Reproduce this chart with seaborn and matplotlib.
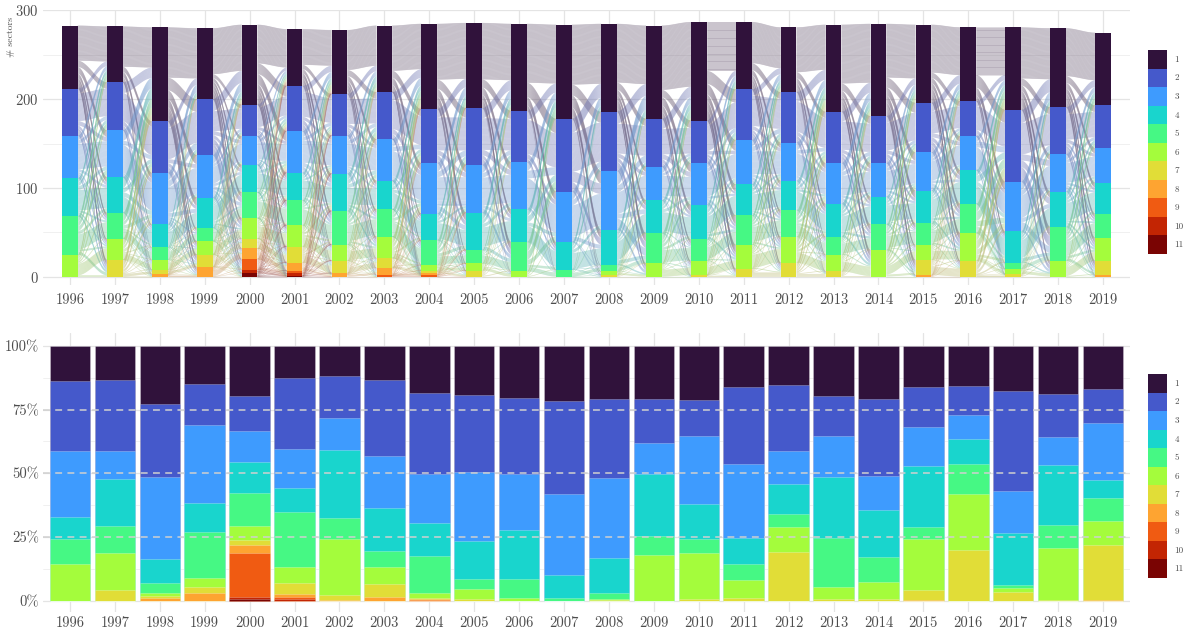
import numpy as np
import pandas as pd
import matplotlib
matplotlib.use("Agg")
import matplotlib as mpl
import matplotlib.pyplot as plt
from matplotlib.collections import PolyCollection, LineCollection
from matplotlib.patches import Patch
import seaborn as sns

# ---------------- data ----------------
years = list(range(1996, 2020))
classes = [str(i) for i in range(1, 12)]

# number of sectors per class (top panel)
count_1 = [71, 63, 106, 80, 90, 64, 72, 75, 96, 96, 98, 106, 99, 105, 111, 76, 73, 98, 104, 88, 83, 93, 89, 82]
count_2 = [53, 54, 58, 63, 36, 51, 47, 53, 61, 64, 58, 82, 67, 54, 48, 57, 57, 58, 53, 56, 40, 81, 53, 48]
count_3 = [48, 53, 58, 48, 32, 47, 43, 47, 57, 54, 53, 57, 66, 38, 47, 50, 43, 46, 38, 43, 38, 56, 42, 39]
count_4 = [43, 40, 26, 34, 31, 31, 42, 32, 30, 42, 37, 31, 40, 37, 39, 35, 33, 37, 31, 37, 38, 35, 40, 35]
count_5 = [43, 29, 14, 15, 29, 28, 38, 31, 28, 15, 33, 8, 7, 34, 24, 33, 30, 20, 29, 24, 33, 7, 38, 27]
count_6 = [25, 24, 11, 15, 23, 24, 18, 24, 6, 8, 6, 0, 4, 15, 16, 27, 29, 19, 30, 17, 31, 6, 18, 26]
count_7 = [0, 19, 5, 14, 11, 18, 14, 11, 3, 7, 0, 0, 2, 0, 2, 9, 16, 6, 0, 17, 18, 3, 0, 16]
count_8 = [0, 0, 3, 11, 12, 9, 4, 8, 2, 0, 0, 0, 0, 0, 0, 0, 0, 0, 0, 2, 0, 0, 0, 2]
count_9 = [0, 0, 0, 0, 12, 3, 0, 2, 2, 0, 0, 0, 0, 0, 0, 0, 0, 0, 0, 0, 0, 0, 0, 0]
count_10 = [0, 0, 0, 0, 4, 3, 0, 0, 0, 0, 0, 0, 0, 0, 0, 0, 0, 0, 0, 0, 0, 0, 0, 0]
count_11 = [0, 0, 0, 0, 4, 1, 0, 0, 0, 0, 0, 0, 0, 0, 0, 0, 0, 0, 0, 0, 0, 0, 0, 0]

# share per class in % (bottom panel)
share_1 = [13.7, 13.5, 22.9, 15.0, 19.5, 12.5, 11.9, 13.5, 18.4, 19.3, 20.4, 21.7, 20.9, 21.0, 21.4, 16.3, 15.4, 19.5, 20.9, 16.3, 15.9, 17.6, 18.8, 17.0]
share_2 = [27.5, 27.9, 28.6, 16.1, 13.8, 28.0, 16.2, 29.5, 31.7, 30.0, 29.7, 36.6, 31.0, 17.0, 13.9, 30.2, 25.8, 15.7, 30.2, 15.7, 11.2, 39.5, 16.8, 13.2]
share_3 = [25.9, 10.9, 32.3, 30.6, 12.1, 15.4, 12.8, 20.7, 19.2, 27.3, 22.3, 31.4, 31.5, 12.2, 26.8, 28.9, 13.0, 16.4, 13.1, 15.2, 9.6, 16.5, 11.1, 22.6]
share_4 = [8.7, 18.4, 9.3, 11.2, 12.2, 9.2, 26.7, 16.6, 13.2, 14.8, 19.0, 9.4, 13.7, 24.2, 13.7, 10.2, 11.9, 23.7, 18.7, 23.9, 9.8, 20.4, 23.5, 6.8]
share_5 = [9.6, 10.6, 3.9, 18.2, 12.9, 21.8, 8.2, 6.4, 14.5, 3.8, 7.7, 0.9, 2.1, 7.8, 5.5, 6.3, 5.0, 19.5, 9.9, 4.7, 11.7, 0.9, 9.0, 9.2]
share_6 = [14.6, 14.3, 1.0, 3.7, 5.8, 6.3, 22.0, 6.9, 1.8, 4.0, 0.9, 0.0, 0.5, 17.8, 18.2, 7.2, 9.9, 4.4, 6.7, 19.8, 21.9, 1.6, 20.4, 9.5]
share_7 = [0.0, 4.4, 1.1, 2.2, 1.9, 4.3, 2.0, 4.8, 0.4, 0.8, 0.0, 0.0, 0.3, 0.0, 0.5, 0.9, 19.0, 0.8, 0.5, 4.1, 19.9, 3.5, 0.4, 21.4]
share_8 = [0.0, 0.0, 0.9, 3.0, 3.1, 1.2, 0.2, 1.6, 0.4, 0.0, 0.0, 0.0, 0.0, 0.0, 0.0, 0.0, 0.0, 0.0, 0.0, 0.3, 0.0, 0.0, 0.0, 0.3]
share_9 = [0.0, 0.0, 0.0, 0.0, 17.1, 0.7, 0.0, 0.0, 0.4, 0.0, 0.0, 0.0, 0.0, 0.0, 0.0, 0.0, 0.0, 0.0, 0.0, 0.0, 0.0, 0.0, 0.0, 0.0]
share_10 = [0.0, 0.0, 0.0, 0.0, 0.8, 0.6, 0.0, 0.0, 0.0, 0.0, 0.0, 0.0, 0.0, 0.0, 0.0, 0.0, 0.0, 0.0, 0.0, 0.0, 0.0, 0.0, 0.0, 0.0]
share_11 = [0.0, 0.0, 0.0, 0.0, 0.8, 0.0, 0.0, 0.0, 0.0, 0.0, 0.0, 0.0, 0.0, 0.0, 0.0, 0.0, 0.0, 0.0, 0.0, 0.0, 0.0, 0.0, 0.0, 0.0]

counts = np.array([count_1, count_2, count_3, count_4, count_5, count_6,
                   count_7, count_8, count_9, count_10, count_11], dtype=float)
shares = np.array([share_1, share_2, share_3, share_4, share_5, share_6,
                   share_7, share_8, share_9, share_10, share_11], dtype=float)
shares = shares / shares.sum(axis=0, keepdims=True) * 100

# ---------------- style ----------------
sns.set_theme(style="whitegrid")
plt.rcParams["font.family"] = ["cmr10", "DejaVu Serif"]
plt.rcParams["axes.formatter.use_mathtext"] = True
plt.rcParams["axes.unicode_minus"] = False

colors = [mpl.colormaps["turbo"](v) for v in np.linspace(0, 1, 11)]
ylab = [str(y) for y in years]
nY = len(years)
K = len(classes)

fig = plt.figure(figsize=(11.89, 6.29), dpi=100)
W, H = 1189, 629
ax1 = fig.add_axes([43 / W, 1 - 285 / H, (1130 - 43) / W, 275 / H])
ax2 = fig.add_axes([43 / W, 1 - 611.7 / H, (1130 - 43) / W, 279 / H])

GRID = "#e4e4e4"
TICK = "#4d4d4d"

# ---------------- top panel: alluvial ----------------
bw = 0.35
cum_counts = np.cumsum(counts[::-1], axis=0)[::-1]   # cum_counts[k] = sum of classes k..11
base = cum_counts - counts                            # bottom of each class segment


def sig(s):
    return s * s * (3 - 2 * s)


svals = np.linspace(0, 1, 30)
polys, pcols, lines, lcols = [], [], [], []
p_stay = 0.5
grey = np.array([0.64, 0.63, 0.67])
for t in range(nY - 1):
    a = counts[:, t]
    b = counts[:, t + 1]
    stay = p_stay * np.minimum(a, b)
    r = a - stay
    s = b - stay
    out = np.outer(r, s) / s.sum() + np.diag(stay)
    inn = np.outer(r, s) / r.sum() + np.diag(stay)
    x0 = t + bw / 2
    x1 = t + 1 - bw / 2
    xs = x0 + (x1 - x0) * svals
    src_top = np.zeros((K, K))
    for i in range(K):
        y = base[i, t] + a[i]
        for j in range(K):
            src_top[i, j] = y
            y -= out[i, j]
    tgt_top = np.zeros((K, K))
    for j in range(K):
        y = base[j, t + 1] + b[j]
        for i in range(K):
            tgt_top[i, j] = y
            y -= inn[i, j]
    for i in range(K):
        for j in range(K):
            if out[i, j] < 1e-6:
                continue
            yt0, yt1 = src_top[i, j], tgt_top[i, j]
            yb0, yb1 = yt0 - out[i, j], yt1 - inn[i, j]
            top = yt0 + (yt1 - yt0) * sig(svals)
            bot = yb0 + (yb1 - yb0) * sig(svals)
            polys.append(np.column_stack([np.r_[xs, xs[::-1]], np.r_[top, bot[::-1]]]))
            c = np.array(colors[i][:3]) * 0.45 + grey * 0.55
            pcols.append((*c, 0.22))
            n = max(1, int(round(out[i, j])))
            for m in range(n):
                fr = (m + 0.5) / n
                y0 = yt0 - fr * out[i, j]
                y1 = yt1 - fr * inn[i, j]
                lines.append(np.column_stack([xs, y0 + (y1 - y0) * sig(svals)]))
                lcols.append((*c, 0.3))

ax1.add_collection(PolyCollection(polys, facecolors=pcols, edgecolors="none", zorder=1))
ax1.add_collection(LineCollection(lines, colors=lcols, linewidths=0.45, zorder=1.5))

for k in range(K):
    sns.barplot(x=ylab, y=cum_counts[k], color=colors[k], saturation=1, width=bw,
                errorbar=None, ax=ax1, zorder=3, linewidth=0)

ax1.set_xlim(-0.6, nY - 0.4)
ax1.set_ylim(-9.3, 300.5)
ax1.set_yticks([0, 100, 200, 300])
ax1.set_yticks([50, 150, 250], minor=True)
ax1.set_xticks(range(nY))
ax1.set_xticklabels(ylab)

# ---------------- bottom panel: shares ----------------
cum_shares = np.cumsum(shares[::-1], axis=0)[::-1]
for k in range(K):
    sns.barplot(x=ylab, y=cum_shares[k], color=colors[k], saturation=1, width=0.9,
                errorbar=None, ax=ax2, zorder=3, linewidth=0.5, edgecolor=(1, 1, 1, 0.35))

for yv in [25, 50, 75]:
    ax2.axhline(yv, color="#d0d0d0", lw=1.1, ls=(0, (4.5, 3.5)), zorder=5)

ax2.set_xlim(-0.6, nY - 0.4)
ax2.set_ylim(-4.3, 105.2)
ax2.set_yticks([0, 25, 50, 75, 100])
ax2.set_yticklabels(["0%", "25%", "50%", "75%", "100%"])
ax2.set_yticks([12.5, 37.5, 62.5, 87.5], minor=True)
ax2.set_xticks(range(nY))
ax2.set_xticklabels(ylab)

for ax, xpad in ((ax1, 6), (ax2, 3)):
    ax.set_xlabel("")
    ax.set_ylabel("")
    for sp in ax.spines.values():
        sp.set_visible(False)
    ax.set_axisbelow(True)
    ax.grid(True, which="major", color=GRID, lw=0.9, zorder=0)
    ax.grid(True, which="minor", axis="y", color="#eeeeee", lw=0.6, zorder=0)
    ax.xaxis.grid(True, which="major", color=GRID, lw=0.9)
    ax.tick_params(axis="both", which="both", length=0, colors=TICK, labelsize=10.5, pad=3)
    ax.tick_params(axis="x", pad=xpad)
    ax.set_facecolor("white")

fig.text(11 / W, 1 - 17 / H, "# sectors", rotation=90, ha="center", va="top",
         fontsize=7, color=TICK)

# ---------------- legends ----------------
handles = [Patch(facecolor=colors[k], edgecolor="none") for k in range(K)]
for ytop in (50, 374):
    fig.legend(handles, classes, loc="upper left",
               bbox_to_anchor=(1148 / W, 1 - ytop / H), frameon=False,
               fontsize=6.5, labelspacing=0.0, handlelength=2.15, handleheight=2.78,
               handletextpad=0.8, borderpad=0, borderaxespad=0, labelcolor=TICK)

fig.savefig("out.png", dpi=100, facecolor="white")
